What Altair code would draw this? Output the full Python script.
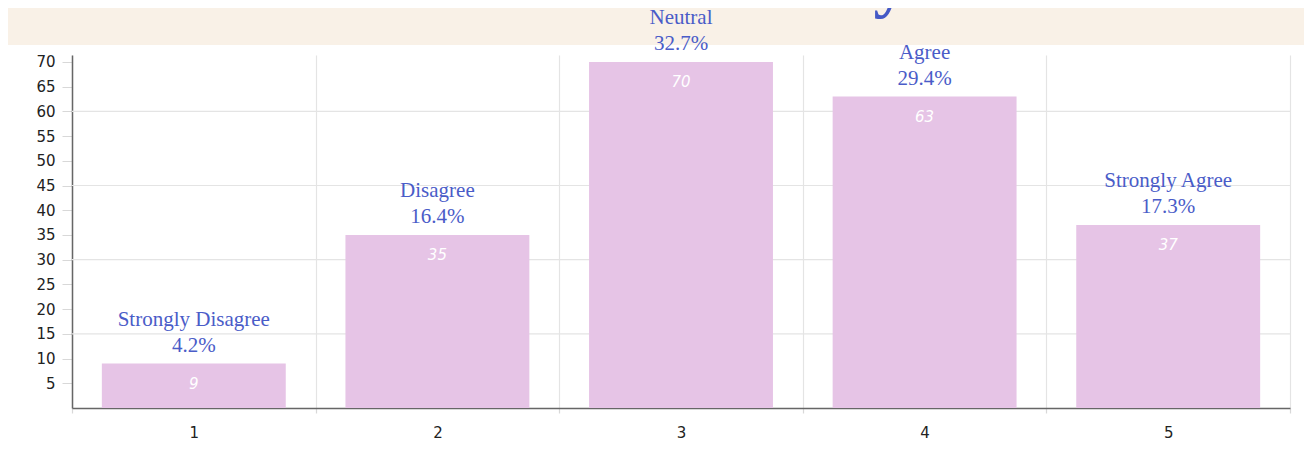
import altair as alt
import pandas as pd

categories = [1, 2, 3, 4, 5]
counts = [9, 35, 70, 63, 37]
names = ["Strongly Disagree", "Disagree", "Neutral", "Agree", "Strongly Agree"]
percents = ["4.2%", "16.4%", "32.7%", "29.4%", "17.3%"]
y_ticks = [5, 10, 15, 20, 25, 30, 35, 40, 45, 50, 55, 60, 65, 70]
grid_values = [15, 30, 45, 60]
title_text = "health seriously"

df = pd.DataFrame({"cat": categories, "count": counts, "name": names, "pct": percents})
grid_df = pd.DataFrame({"g": grid_values})

W, H = 1218, 353
BLUE = "#4a5cc8"
BAR = "#e6c4e6"
BEIGE = "#f9f1e7"

xenc = alt.X(
    "cat:O",
    scale=alt.Scale(paddingInner=0, paddingOuter=0),
    axis=alt.Axis(
        title=None, labelAngle=0, grid=True, gridColor="#e4e4e4", gridWidth=1.2,
        tickBand="extent", ticks=True, tickColor="#d8d8d8", tickSize=5, tickWidth=1.2,
        domainColor="#666666", domainWidth=1.5, labelFont="DejaVu Sans",
        labelFontSize=15, labelColor="#222222", labelPadding=12,
    ),
)
yscale = alt.Scale(domain=[0, 71.4], nice=False)
yaxis = alt.Axis(
    title=None, values=y_ticks, grid=False, ticks=True, tickColor="#d8d8d8",
    tickSize=10, tickWidth=1, domainColor="#666666", domainWidth=1.5,
    labelFont="DejaVu Sans", labelFontSize=15, labelColor="#222222",
    labelPadding=7, labelOverlap=False, labelFlush=False,
)
yenc = alt.Y("count:Q", scale=yscale, axis=yaxis)

base = alt.Chart(df).encode(x=xenc, y=yenc)

top_strip = alt.Chart(alt.Data(values=[{"k": 1}])).mark_rect(color=BEIGE).encode(
    x=alt.value(-64), x2=alt.value(W + 14), y=alt.value(-47), y2=alt.value(-10)
)

hgrid = alt.Chart(grid_df).mark_rule(color="#e4e4e4", strokeWidth=1.2).encode(
    y=alt.Y("g:Q", scale=yscale, axis=yaxis)
)

bars = base.mark_bar(width=alt.RelativeBandSize(0.755), color=BAR)

values = base.mark_text(
    dy=25, baseline="alphabetic", font="DejaVu Sans", fontStyle="italic",
    fontSize=15, color="white"
).encode(text="count:Q")

pct_labels = base.mark_text(
    dy=-12, baseline="alphabetic", font="Liberation Serif", fontSize=21, color=BLUE
).encode(text="pct:N")

name_labels = base.mark_text(
    dy=-38, baseline="alphabetic", font="Liberation Serif", fontSize=21, color=BLUE
).encode(text="name:N")

title = alt.Chart(alt.Data(values=[{"t": title_text}])).mark_text(
    font="Liberation Serif", fontSize=68, fontWeight="bold", color="#4559c6",
    baseline="alphabetic", align="center"
).encode(x=alt.value(608), y=alt.value(-50), text="t:N")

chart = alt.layer(top_strip, hgrid, bars, values, title, pct_labels, name_labels).properties(
    width=W, height=H,
    padding={"left": 64, "top": 47, "right": 14, "bottom": 33},
    autosize=alt.AutoSizeParams(type="none"),
    background="white",
).configure_view(stroke=None)

chart.save("out.html", embed_options={"renderer": "svg", "actions": False})
